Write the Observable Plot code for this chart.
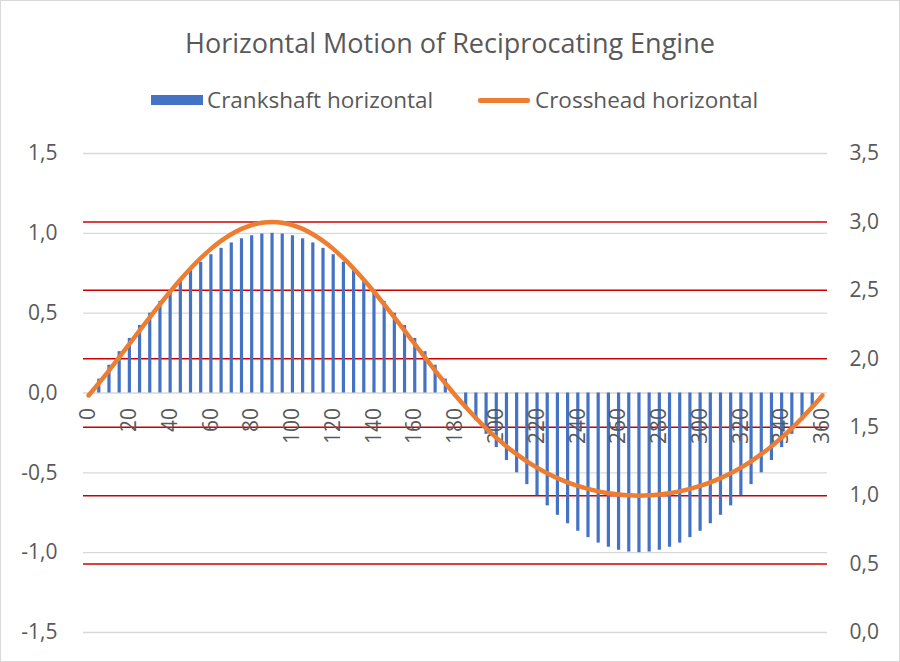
<!DOCTYPE html>
<html>
<head>
<meta charset="utf-8">
<script src="https://cdn.jsdelivr.net/npm/d3@7"></script>
<script src="https://cdn.jsdelivr.net/npm/@observablehq/plot@0.6"></script>
<style>
  html, body { margin: 0; padding: 0; background: #fff; }
  #wrap { position: relative; width: 900px; height: 662px; background: #fff; overflow: hidden;
          font-family: "Open Sans", sans-serif; color: #595959; }
  #frame { position: absolute; left: 0; top: 0; width: 900px; height: 662px; box-sizing: border-box;
           border: 1.5px solid #d9d9d9; pointer-events: none; z-index: 5; }
  #title { position: absolute; left: 0; top: 25px; width: 900px; text-align: center;
           font-size: 27px; line-height: 36px; }
  .leg { position: absolute; font-size: 22.5px; line-height: 28px; top: 86px; white-space: nowrap; }
  .sw { position: absolute; }
  #chart { position: absolute; left: 0; top: 125px; }
</style>
</head>
<body>
<div id="wrap">
  <div id="title">Horizontal Motion of Reciprocating Engine</div>
  <div class="sw" style="left:151px;top:95px;width:52px;height:10px;background:#4472C4"></div>
  <div class="leg" style="left:207px">Crankshaft horizontal</div>
  <div class="sw" style="left:478px;top:98px;width:52px;height:4.5px;background:#ED7D31;border-radius:2px"></div>
  <div class="leg" style="left:535px">Crosshead horizontal</div>
  <div id="chart"></div>
  <div id="frame"></div>
</div>
<script>
// Crank angle in degrees (categories)
const angles = [0,5,10,15,20,25,30,35,40,45,50,55,60,65,70,75,80,85,90,
  95,100,105,110,115,120,125,130,135,140,145,150,155,160,165,170,175,180,
  185,190,195,200,205,210,215,220,225,230,235,240,245,250,255,260,265,270,
  275,280,285,290,295,300,305,310,315,320,325,330,335,340,345,350,355,360];

// Crankshaft horizontal (left axis)
const crankshaft = [0,0.087,0.174,0.259,0.342,0.423,0.5,0.574,0.643,0.707,0.766,0.819,0.866,0.906,0.940,0.966,0.985,0.996,1,
  0.996,0.985,0.966,0.940,0.906,0.866,0.819,0.766,0.707,0.643,0.574,0.5,0.423,0.342,0.259,0.174,0.087,0,
  -0.087,-0.174,-0.259,-0.342,-0.423,-0.5,-0.574,-0.643,-0.707,-0.766,-0.819,-0.866,-0.906,-0.940,-0.966,-0.985,-0.996,-1,
  -0.996,-0.985,-0.966,-0.940,-0.906,-0.866,-0.819,-0.766,-0.707,-0.643,-0.574,-0.5,-0.423,-0.342,-0.259,-0.174,-0.087,0];

// Crosshead horizontal (right axis)
const crosshead = [1.732,1.821,1.914,2.010,2.108,2.206,2.303,2.398,2.490,2.578,2.660,2.735,2.803,2.861,2.910,2.949,2.977,2.994,3.000,
  2.994,2.977,2.949,2.910,2.861,2.803,2.735,2.660,2.578,2.490,2.398,2.303,2.206,2.108,2.010,1.914,1.821,1.732,
  1.647,1.567,1.492,1.424,1.360,1.303,1.251,1.205,1.164,1.128,1.097,1.071,1.049,1.031,1.017,1.008,1.002,1.000,
  1.002,1.008,1.017,1.031,1.049,1.071,1.097,1.128,1.164,1.205,1.251,1.303,1.360,1.424,1.492,1.567,1.647,1.732];

const leftTicks = [-1.5,-1,-0.5,0,0.5,1,1.5];
const rightTicks = [0,0.5,1,1.5,2,2.5,3,3.5];
const redLines = [0.5,1,1.5,2,2.5,3];
const xLabels = [0,20,40,60,80,100,120,140,160,180,200,220,240,260,280,300,320,340,360];

const data = angles.map((a, i) => ({angle: a, crank: crankshaft[i], cross: crosshead[i]}));

// Map right-axis values (0..3.5) onto the left scale (-1.5..1.5)
const toLeft = v => v * 3 / 3.5 - 1.5;
const fromLeft = v => (v + 1.5) * 3.5 / 3;
const fmt = v => (Math.abs(v) < 1e-9 ? 0 : v).toFixed(1).replace(".", ",");

const chart = Plot.plot({
  width: 900,
  height: 537,
  marginLeft: 83,
  marginRight: 73,
  marginTop: 28,
  marginBottom: 30,
  style: {fontFamily: "Open Sans, sans-serif", fontSize: "21px", color: "#595959", background: "transparent", overflow: "visible"},
  x: {domain: [-2.5, 362.5], axis: null},
  y: {domain: [-1.5, 1.5], axis: null},
  marks: [
    Plot.ruleY(leftTicks, {stroke: "#d9d9d9", strokeWidth: 1.3}),
    Plot.ruleY(redLines, {y: d => toLeft(d), stroke: "#cc0000", strokeWidth: 1.5}),
    Plot.ruleX(data, {x: "angle", y1: 0, y2: "crank", stroke: "#4472C4", strokeWidth: 3.2}),
    Plot.axisY(leftTicks, {anchor: "left", tickSize: 0, tickPadding: 26, tickFormat: fmt, label: null, fill: "#595959", fontSize: 21}),
    Plot.axisY(rightTicks.map(toLeft), {anchor: "right", tickSize: 0, tickPadding: 22, tickFormat: d => fmt(fromLeft(d)), label: null, fill: "#595959", fontSize: 21}),
    Plot.text(xLabels, {x: d => d, y: 0, text: d => String(d), rotate: -90, textAnchor: "end", lineAnchor: "middle", dy: 15, fill: "#595959", fontSize: 21}),
    Plot.line(data, {x: "angle", y: d => toLeft(d.cross), stroke: "#ED7D31", strokeWidth: 4.5, curve: "catmull-rom", strokeLinecap: "round"})
  ]
});
document.getElementById("chart").appendChild(chart);
</script>
</body>
</html>
